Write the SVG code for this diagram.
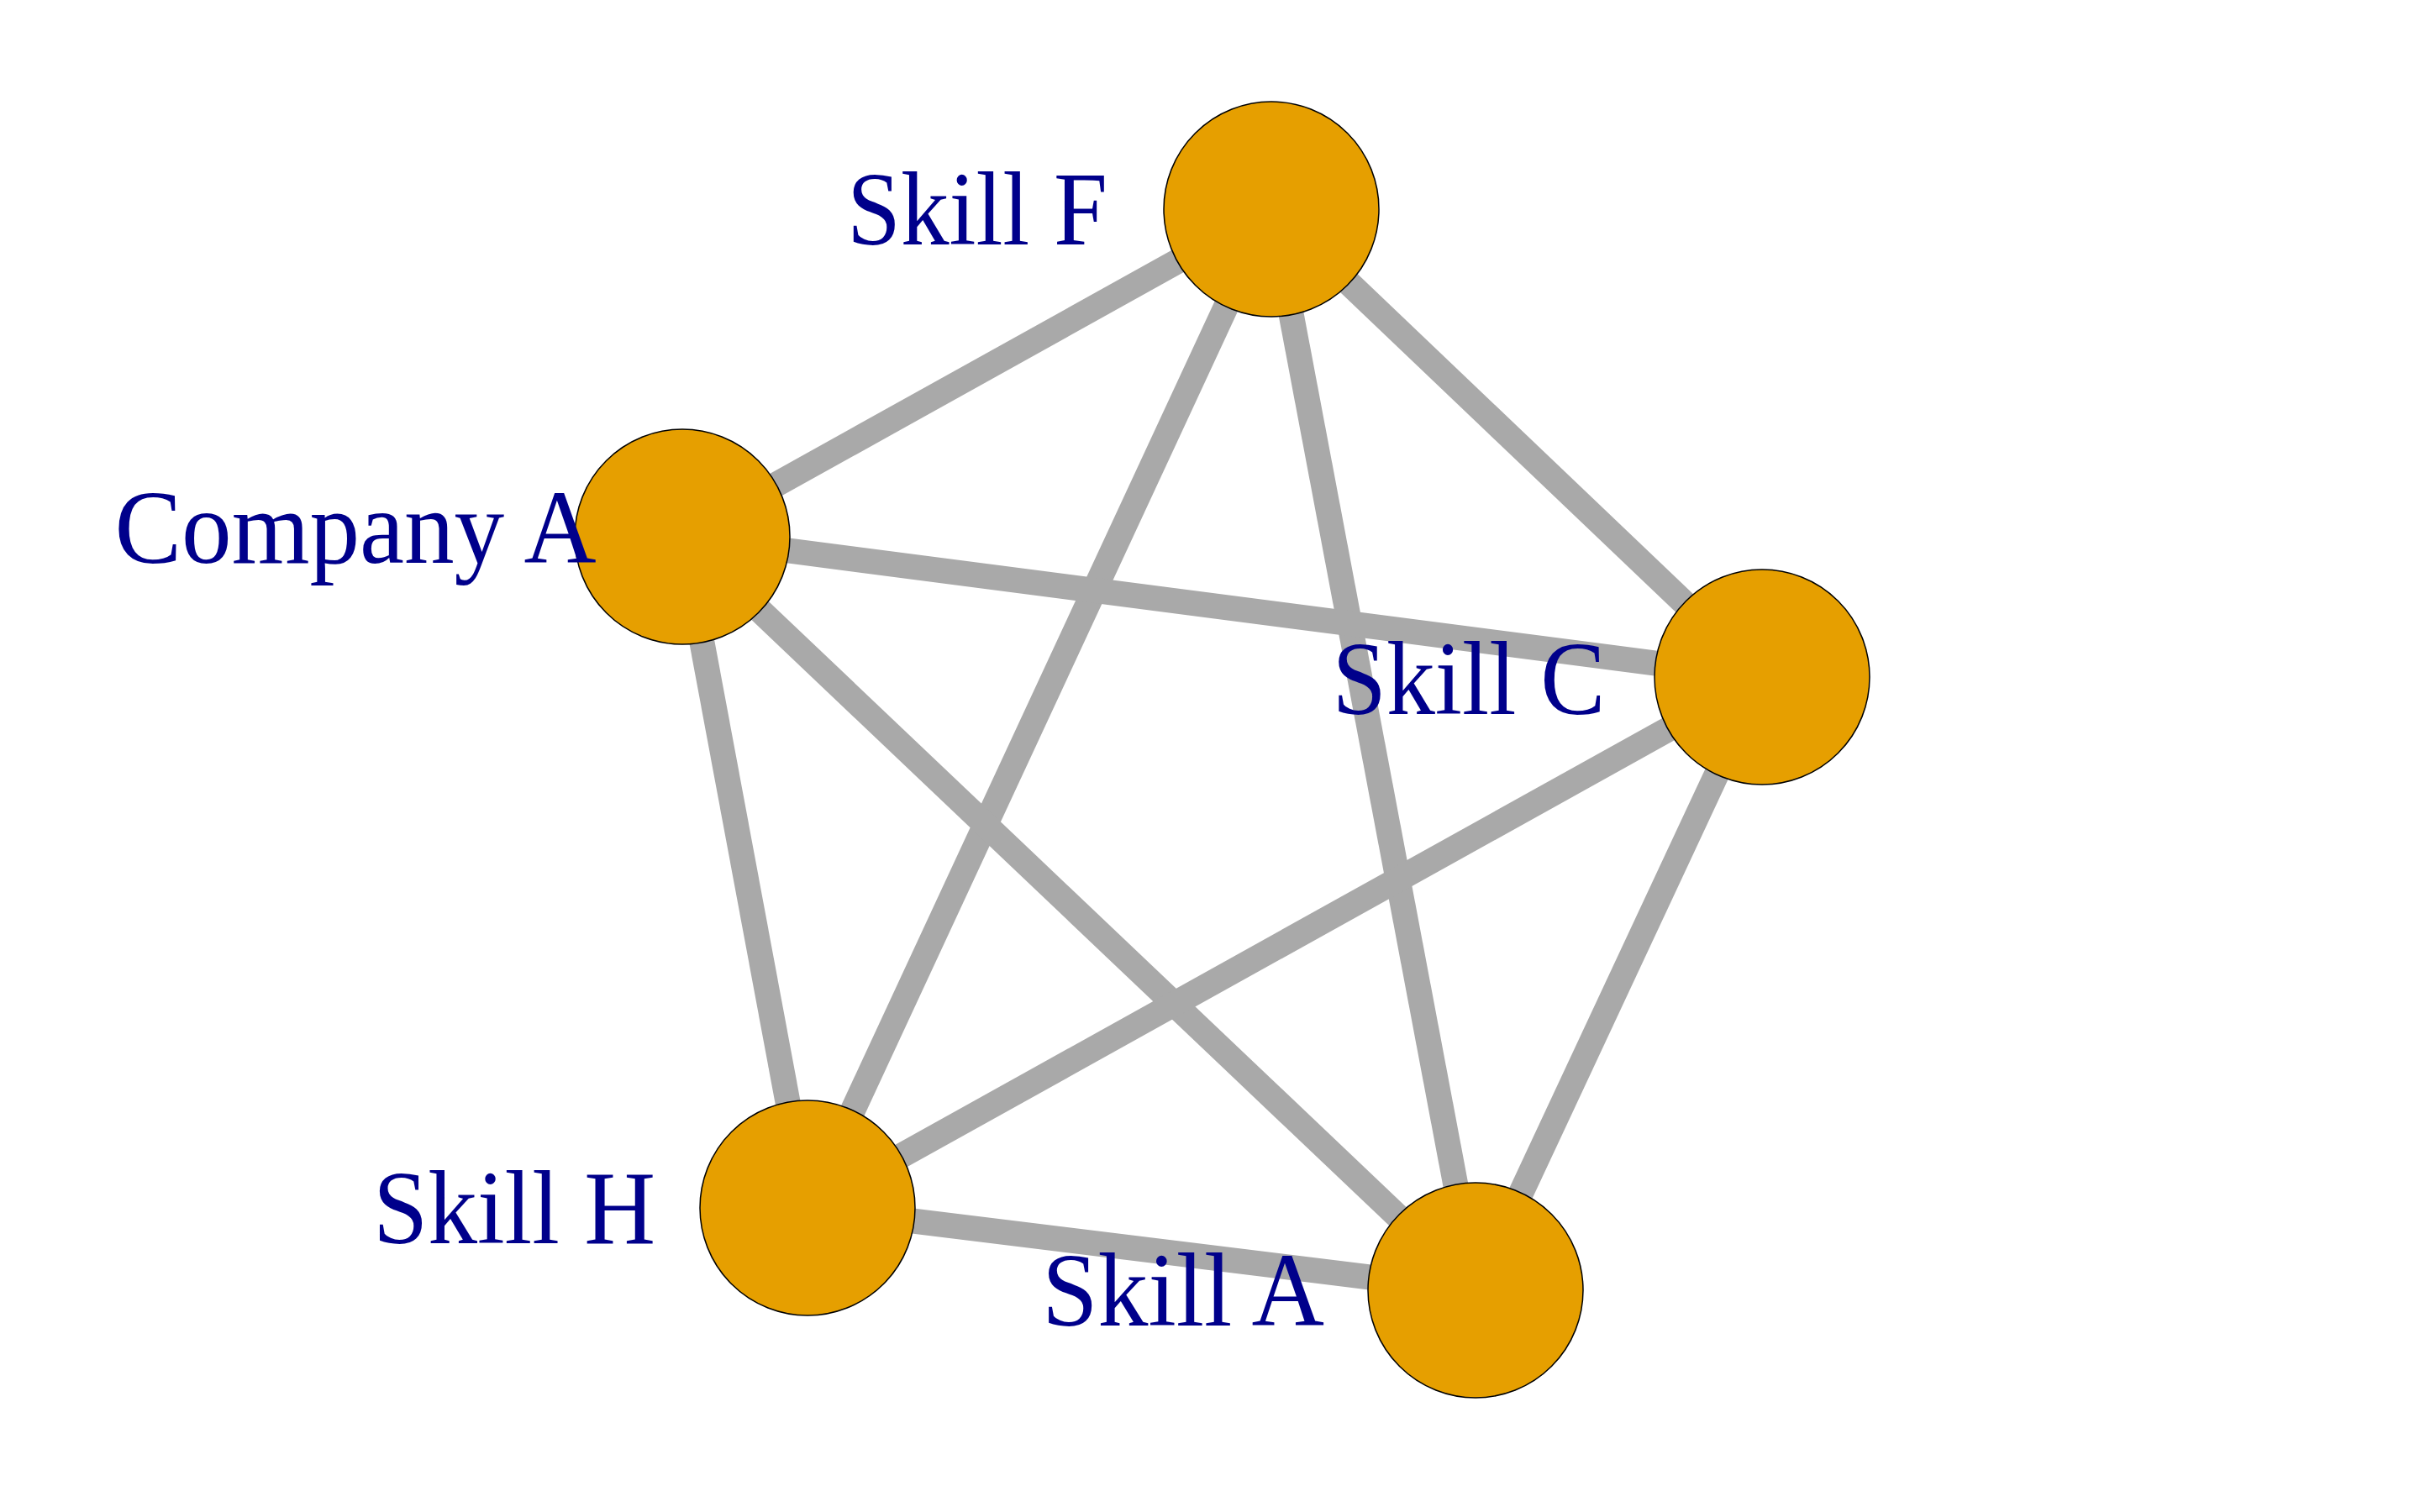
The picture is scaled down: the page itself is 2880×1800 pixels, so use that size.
<svg xmlns="http://www.w3.org/2000/svg" width="2880" height="1800" viewBox="0 0 2880 1800">
<style>
.edge{stroke:#A9A9A9;stroke-width:30;stroke-linecap:butt;fill:none}
.node circle{fill:#E69F00;stroke:#000000;stroke-width:1.5}
.label{font-family:"Liberation Serif","Times New Roman",serif;font-size:124px;fill:#00008B;text-anchor:middle}
</style>
<rect width="2880" height="1800" fill="#FFFFFF"/>
<g id="connectors">
<line class="edge" x1="1513" y1="249" x2="812" y2="639"/>
<line class="edge" x1="1513" y1="249" x2="2097" y2="806"/>
<line class="edge" x1="1513" y1="249" x2="961" y2="1438"/>
<line class="edge" x1="1513" y1="249" x2="1756" y2="1536"/>
<line class="edge" x1="812" y1="639" x2="2097" y2="806"/>
<line class="edge" x1="812" y1="639" x2="961" y2="1438"/>
<line class="edge" x1="812" y1="639" x2="1756" y2="1536"/>
<line class="edge" x1="2097" y1="806" x2="961" y2="1438"/>
<line class="edge" x1="2097" y1="806" x2="1756" y2="1536"/>
<line class="edge" x1="961" y1="1438" x2="1756" y2="1536"/>
</g>
<g id="node-skill-f" class="node">
<circle cx="1513" cy="249" r="128"/>
<text class="label" x="1163" y="291" textLength="310" lengthAdjust="spacingAndGlyphs">Skill F</text>
</g>
<g id="node-company-a" class="node">
<circle cx="812" cy="639" r="128"/>
<text class="label" x="423" y="670" textLength="573" lengthAdjust="spacingAndGlyphs">Company A</text>
</g>
<g id="node-skill-c" class="node">
<circle cx="2097" cy="806" r="128"/>
<text class="label" x="1748" y="850" textLength="325" lengthAdjust="spacingAndGlyphs">Skill C</text>
</g>
<g id="node-skill-h" class="node">
<circle cx="961" cy="1438" r="128"/>
<text class="label" x="612" y="1480" textLength="336" lengthAdjust="spacingAndGlyphs">Skill H</text>
</g>
<g id="node-skill-a" class="node">
<circle cx="1756" cy="1536" r="128"/>
<text class="label" x="1408" y="1578" textLength="336" lengthAdjust="spacingAndGlyphs">Skill A</text>
</g>
</svg>
